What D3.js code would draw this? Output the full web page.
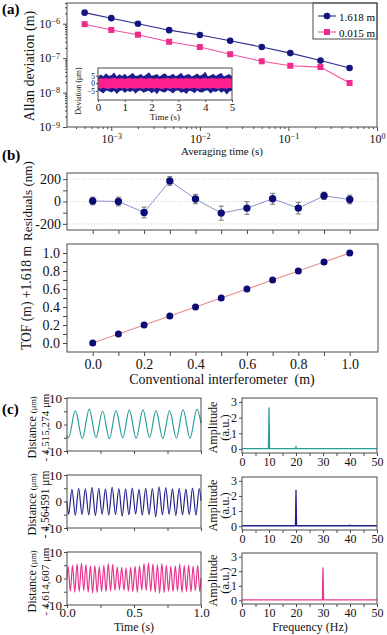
<!DOCTYPE html>
<html>
<head>
<meta charset="utf-8">
<script src="https://cdn.jsdelivr.net/npm/d3@7"></script>
<style>
body { margin: 0; background: #fff; }
</style>
</head>
<body>
<script>
// ---- (a) Allan deviation ----
const tau = [0.0005, 0.001, 0.002, 0.0045, 0.01, 0.022, 0.05, 0.105, 0.23, 0.49];
const adevLong = [2.1e-6, 1.45e-6, 1.0e-6, 6.5e-7, 4.7e-7, 3.2e-7, 2.1e-7, 1.4e-7, 8.5e-8, 5.2e-8];
const adevShort = [9.7e-7, 6.6e-7, 4.8e-7, 3.0e-7, 2.1e-7, 1.3e-7, 8.1e-8, 6.0e-8, 5.5e-8, 1.9e-8];
const legendNames = ["1.618 m", "0.015 m"];

// inset: envelope of the deviation traces (µm) vs time (s)
const insetTime = [0, 0.1, 0.2, 0.3, 0.4, 0.5, 0.6, 0.7, 0.8, 0.9, 1.0, 1.1, 1.2, 1.3, 1.4, 1.5, 1.6, 1.7, 1.8, 1.9, 2.0,
  2.1, 2.2, 2.3, 2.4, 2.5, 2.6, 2.7, 2.8, 2.9, 3.0, 3.1, 3.2, 3.3, 3.4, 3.5, 3.6, 3.7, 3.8, 3.9, 4.0,
  4.1, 4.2, 4.3, 4.4, 4.5, 4.6, 4.7, 4.8, 4.9, 5.0];
const blueUpper = [4.2, 5.8, 4.6, 6.5, 4.9, 5.2, 7.0, 4.5, 5.9, 4.8, 6.2, 4.4, 5.5, 6.8, 4.7, 5.1, 6.0, 4.6, 5.7, 7.2, 4.9,
  5.3, 6.1, 4.5, 5.8, 6.6, 4.8, 5.0, 6.3, 4.6, 5.4, 6.9, 4.7, 5.6, 6.0, 4.5, 5.2, 6.4, 4.9, 5.7, 7.5,
  4.6, 5.1, 6.2, 4.8, 5.9, 6.7, 4.5, 5.3, 6.1, 4.4];
const blueLower = [-4.5, -5.6, -6.8, -4.7, -5.2, -6.1, -4.9, -7.0, -5.3, -4.6, -6.4, -5.0, -5.8, -4.8, -6.9, -5.1, -4.7, -6.2, -5.5, -4.9, -6.6,
  -5.2, -7.3, -4.8, -5.7, -6.0, -4.6, -5.4, -6.7, -5.0, -4.8, -6.3, -5.6, -7.1, -4.9, -5.2, -6.5, -4.7, -5.9, -6.1, -5.0,
  -4.8, -6.8, -5.3, -5.7, -4.6, -6.2, -5.1, -7.4, -5.5, -4.9];
const pinkUpper = [2.8, 3.3, 3.0, 3.5, 2.9, 3.2, 3.6, 3.0, 3.1, 3.4, 2.8, 3.3, 3.5, 2.9, 3.2, 3.0, 3.6, 3.1, 2.9, 3.4, 3.2,
  3.0, 3.5, 2.8, 3.3, 3.1, 3.6, 2.9, 3.2, 3.4, 3.0, 3.3, 2.9, 3.5, 3.1, 3.2, 3.0, 3.6, 2.8, 3.3, 3.4,
  3.0, 3.2, 3.5, 2.9, 3.1, 3.3, 3.0, 3.4, 3.2, 2.9];
const pinkLower = [-3.1, -3.6, -2.9, -3.4, -3.8, -3.0, -3.3, -3.7, -2.9, -3.5, -3.2, -3.9, -3.0, -3.4, -3.6, -3.1, -3.3, -3.8, -2.9, -3.5, -3.2,
  -3.6, -3.0, -3.4, -3.9, -3.1, -3.3, -3.7, -3.0, -3.5, -3.2, -3.4, -3.8, -2.9, -3.6, -3.3, -3.1, -3.5, -3.7, -3.0, -3.4,
  -3.2, -3.6, -2.9, -3.5, -3.8, -3.1, -3.3, -3.6, -3.0, -3.2];

// ---- (b) comparison with conventional interferometer ----
const convDist = [0, 0.1, 0.2, 0.3, 0.4, 0.5, 0.6, 0.7, 0.8, 0.9, 1.0];
const tofDist = [0, 0.1, 0.2, 0.3, 0.4, 0.5, 0.6, 0.7, 0.8, 0.9, 1.0];
const residual = [5, 0, -98, 184, 22, -104, -59, 24, -59, 51, 18];
const residualErr = [34, 39, 48, 40, 42, 63, 57, 49, 52, 33, 39];

// ---- (c) vibration traces (extrema) and spectra ----
const sig1Time = [0, 0.012, 0.062, 0.114, 0.166, 0.216, 0.266, 0.316, 0.366, 0.416, 0.465, 0.516,
  0.567, 0.616, 0.664, 0.715, 0.766, 0.816, 0.866, 0.918, 0.97, 1.0];
const sig1Val = [-4.0, -5.0, 5.2, -5.3, 5.8, -5.0, 5.1, -5.4, 5.2, -5.1, 5.5, -5.2,
  5.6, -5.0, 5.2, -5.3, 5.2, -5.1, 5.6, -5.2, 5.8, 0.5];

const sig2Time = [0, 0.012, 0.037, 0.062, 0.087, 0.112, 0.137, 0.162, 0.187, 0.212, 0.237, 0.262, 0.287,
  0.312, 0.337, 0.362, 0.387, 0.412, 0.437, 0.462, 0.487, 0.512, 0.537, 0.562, 0.587, 0.612, 0.637,
  0.662, 0.687, 0.712, 0.737, 0.762, 0.787, 0.812, 0.837, 0.862, 0.887, 0.912, 0.937, 0.962, 0.987, 1.0];
const sig2Val = [0, -4.8, 4.6, -5.2, 5.0, -4.9, 4.8, -5.0, 5.3, -5.3, 5.0, -4.8, 4.7, -5.1, 5.4, -4.9,
  4.9, -5.5, 4.8, -5.0, 5.1, -4.7, 4.6, -5.1, 5.0, -4.9, 4.9, -5.8, 5.5, -5.0, 5.2, -4.8, 4.8, -5.2,
  5.0, -5.0, 4.7, -4.9, 5.1, -5.1, 4.9, 0.3];

const sig3Time = [0, 0.008, 0.025, 0.041, 0.058, 0.075, 0.091, 0.108, 0.125, 0.141, 0.158, 0.175, 0.191,
  0.208, 0.225, 0.241, 0.258, 0.275, 0.291, 0.308, 0.325, 0.341, 0.358, 0.375, 0.391, 0.408, 0.425,
  0.441, 0.458, 0.475, 0.491, 0.508, 0.525, 0.541, 0.558, 0.575, 0.591, 0.608, 0.625, 0.641, 0.658,
  0.675, 0.691, 0.708, 0.725, 0.741, 0.758, 0.775, 0.791, 0.808, 0.825, 0.841, 0.858, 0.875, 0.891,
  0.908, 0.925, 0.941, 0.958, 0.975, 0.991, 1.0];
const sig3Val = [0, 4.6, -4.8, 5.0, -5.2, 5.5, -5.0, 5.8, -4.6, 5.2, -5.1, 4.8, -5.5, 4.9, -5.3, 4.5,
  -4.9, 5.0, -5.0, 5.6, -4.7, 5.3, -4.5, 4.4, -4.3, 4.2, -4.6, 4.0, -4.8, 4.3, -5.0, 4.6, -5.2, 4.8,
  -4.4, 5.7, -4.6, 5.9, -4.9, 5.5, -5.1, 5.2, -5.6, 5.6, -5.3, 5.0, -4.8, 4.6, -5.0, 4.8, -4.7, 5.4,
  -5.2, 4.9, -4.9, 5.1, -5.1, 4.7, -4.6, 5.0, -5.0, 0.2];

const spec1Freq = [0, 9.8, 10, 10.2, 19.8, 20, 20.2, 50];
const spec1Amp = [0.03, 0.03, 2.65, 0.03, 0.03, 0.13, 0.03, 0.03];
const spec2Freq = [0, 19.8, 20, 20.2, 39.8, 40, 40.2, 50];
const spec2Amp = [0.03, 0.03, 2.4, 0.03, 0.03, 0.07, 0.03, 0.03];
const spec3Freq = [0, 29.8, 30, 30.2, 50];
const spec3Amp = [0.03, 0.03, 2.25, 0.03, 0.03];

const offsetLabels = ["- 4,515,274 μm", "- 4,564591 μm", "- 4,614,607 μm"];

// ---------------------------------------------------------------
const serif = "'Liberation Serif', 'Times New Roman', Times, serif";
const ink = "#4a4a4a";
const blue = "#15157f", pink = "#ee2a8c";
const svg = d3.select("body").append("svg").attr("width", 387).attr("height", 635)
  .attr("font-family", serif).style("display", "block");

// shrink a text so it is no longer than the span it takes in the picture
function fit(sel, len) {
  const w = sel.node().getComputedTextLength();
  const fs = +sel.attr("font-size");
  if (w > len) sel.attr("font-size", fs * len / w);
  return sel;
}

function frame(x0, y0, x1, y1) {
  svg.append("rect").attr("x", x0).attr("y", y0).attr("width", x1 - x0).attr("height", y1 - y0)
    .attr("fill", "none").attr("stroke", ink).attr("stroke-width", 1);
}

function drawAxis(axis, tx, ty, fontSize) {
  const g = svg.append("g").attr("transform", `translate(${tx},${ty})`).call(axis);
  g.attr("font-family", serif).attr("font-size", fontSize);
  g.select(".domain").remove();
  g.selectAll(".tick line").attr("stroke", ink);
  g.selectAll(".tick text").attr("fill", "#111");
  return g;
}

function vLabel(text, x, y, size, len) {
  const t = svg.append("text").attr("transform", `translate(${x},${y}) rotate(-90)`)
    .attr("text-anchor", "middle").attr("font-size", size).attr("fill", "#111").text(text);
  return len ? fit(t, len) : t;
}

function hLabel(text, x, y, size, len) {
  const t = svg.append("text").attr("x", x).attr("y", y).attr("text-anchor", "middle")
    .attr("font-size", size).attr("fill", "#111").text(text);
  return len ? fit(t, len) : t;
}

function tag(text, y) {
  svg.append("text").attr("x", 2).attr("y", y).attr("font-size", 15).attr("font-weight", "bold").text(text);
}

function pow10(sel) {
  sel.each(function (d) {
    const e = String(Math.round(Math.log10(d))).replace("-", "\u2212");
    const t = d3.select(this).text("10");
    t.append("tspan").attr("dy", "-0.45em").attr("font-size", "0.68em").text(e);
  });
}

const minus = d => String(d).replace("-", "\u2212");

// ================= (a) =================
tag("(a)", 14);
const xA = d3.scaleLog().domain([10 ** -3.5, 1]).range([67, 377]);
const yA = d3.scaleLog().domain([1e-9, 4e-6]).range([127, 3]);
const isMajor = d => Math.abs(Math.log10(d) - Math.round(Math.log10(d))) < 1e-6;

drawAxis(d3.axisBottom(xA).tickValues(xA.ticks().filter(d => !isMajor(d))).tickSize(2).tickFormat(""), 0, 127, 12);
drawAxis(d3.axisBottom(xA).tickValues(xA.ticks().filter(isMajor)).tickSize(4).tickPadding(3), 0, 127, 12)
  .selectAll(".tick text").call(pow10);
drawAxis(d3.axisLeft(yA).tickValues(yA.ticks().filter(d => !isMajor(d))).tickSize(2).tickFormat(""), 67, 0, 12);
drawAxis(d3.axisLeft(yA).tickValues(yA.ticks().filter(isMajor)).tickSize(4).tickPadding(3), 67, 0, 12)
  .selectAll(".tick text").call(pow10);
frame(67, 3, 377, 127);

vLabel("Allan deviation (m)", 34, 66, 14, 117);
hLabel("Averaging time (s)", 222, 155, 12, 82);

const adevLine = d3.line().x(d => xA(d[0])).y(d => yA(d[1]));
const longPts = tau.map((t, i) => [t, adevLong[i]]);
const shortPts = tau.map((t, i) => [t, adevShort[i]]);
svg.append("path").datum(longPts).attr("d", adevLine).attr("fill", "none").attr("stroke", "#2a2a90").attr("stroke-width", 1.1);
svg.append("path").datum(shortPts).attr("d", adevLine).attr("fill", "none").attr("stroke", "#f0509f").attr("stroke-width", 1.1);
svg.append("g").selectAll("circle").data(longPts).join("circle")
  .attr("cx", d => xA(d[0])).attr("cy", d => yA(d[1])).attr("r", 3.3).attr("fill", blue);
svg.append("g").selectAll("rect").data(shortPts).join("rect")
  .attr("x", d => xA(d[0]) - 3).attr("y", d => yA(d[1]) - 3).attr("width", 6).attr("height", 6).attr("fill", pink);

// legend
frame(313, 3, 377, 39);
legendNames.forEach((name, i) => {
  const y = 16 + i * 16;
  svg.append("line").attr("x1", 318).attr("x2", 336).attr("y1", y).attr("y2", y)
    .attr("stroke", i ? "#f0509f" : "#2a2a90").attr("stroke-width", 1.1);
  if (i === 0) svg.append("circle").attr("cx", 327).attr("cy", y).attr("r", 3.3).attr("fill", blue);
  else svg.append("rect").attr("x", 324).attr("y", y - 3).attr("width", 6).attr("height", 6).attr("fill", pink);
  fit(svg.append("text").attr("x", 339).attr("y", y + 4.5).attr("font-size", 13).text(name), 36);
});

// inset
const xI = d3.scaleLinear().domain([0, 5]).range([98, 232]);
const yI = d3.scaleLinear().domain([-11, 10]).range([100, 68]);
svg.append("rect").attr("x", 98).attr("y", 68).attr("width", 134).attr("height", 32).attr("fill", "#fff");
const band = (up, lo) => d3.area().x((d, i) => xI(insetTime[i])).y0((d, i) => yI(lo[i])).y1((d, i) => yI(up[i]));
svg.append("path").datum(blueUpper).attr("d", band(blueUpper, blueLower)).attr("fill", "#1d1d8f");
svg.append("path").datum(pinkUpper).attr("d", band(pinkUpper, pinkLower)).attr("fill", "#ff1f8e");
drawAxis(d3.axisBottom(xI).ticks(5).tickSize(2).tickPadding(1).tickFormat(d3.format("d")), 0, 100, 11);
drawAxis(d3.axisLeft(yI).tickValues([-5, 0, 5]).tickSize(2).tickPadding(1).tickFormat(minus), 98, 0, 7.5);
frame(98, 68, 232, 100);
vLabel("Deviation (μm)", 81, 91, 11, 47);
hLabel("Time (s)", 165, 120, 11, 30);

// ================= (b) =================
tag("(b)", 160);
const xB = d3.scaleLinear().domain([-0.1, 1.11]).range([67, 378]);
const yR = d3.scaleLinear().domain([-255, 255]).range([230, 173]);
const yT = d3.scaleLinear().domain([-0.1, 1.1]).range([352, 244]);

svg.append("g").selectAll("line").data([-200, 0, 200]).join("line")
  .attr("x1", 67).attr("x2", 378).attr("y1", d => yR(d)).attr("y2", d => yR(d))
  .attr("stroke", "#cfcfcf").attr("stroke-dasharray", "1,2");
drawAxis(d3.axisBottom(xB).tickValues(convDist).tickSize(4).tickFormat(""), 0, 230, 14);
drawAxis(d3.axisLeft(yR).tickValues([-200, -100, 0, 100, 200]).tickSize(4).tickPadding(2)
  .tickFormat(d => d % 200 === 0 ? String(d) : ""), 67, 0, 14);
frame(67, 173, 378, 230);
vLabel("Residuals (nm)", 32, 201, 14, 80);

const resPts = convDist.map((x, i) => ({x, y: residual[i], e: residualErr[i]}));
svg.append("path").datum(resPts).attr("d", d3.line().x(d => xB(d.x)).y(d => yR(d.y)))
  .attr("fill", "none").attr("stroke", "#9090cc").attr("stroke-width", 1);
const eb = svg.append("g").attr("stroke", "#666").attr("stroke-width", 0.9);
eb.selectAll(".v").data(resPts).join("line").attr("class", "v")
  .attr("x1", d => xB(d.x)).attr("x2", d => xB(d.x)).attr("y1", d => yR(d.y - d.e)).attr("y2", d => yR(d.y + d.e));
eb.selectAll(".c").data(resPts.flatMap(d => [d.y - d.e, d.y + d.e].map(v => ({x: d.x, v})))).join("line").attr("class", "c")
  .attr("x1", d => xB(d.x) - 2.5).attr("x2", d => xB(d.x) + 2.5).attr("y1", d => yR(d.v)).attr("y2", d => yR(d.v));
svg.append("g").selectAll("circle").data(resPts).join("circle")
  .attr("cx", d => xB(d.x)).attr("cy", d => yR(d.y)).attr("r", 3.7).attr("fill", "#0c0c78");

drawAxis(d3.axisBottom(xB).tickValues(convDist).tickSize(4).tickPadding(3)
  .tickFormat(d => Math.round(d * 10) % 2 === 0 ? d3.format(".1f")(d) : ""), 0, 352, 14);
drawAxis(d3.axisLeft(yT).tickValues(tofDist).tickSize(4).tickPadding(3)
  .tickFormat(d => Math.round(d * 10) % 2 === 0 ? d3.format(".1f")(d) : ""), 67, 0, 14);
frame(67, 244, 378, 352);
vLabel("TOF (m) +1.618 m", 31, 298, 14, 104);
hLabel("Conventional interferometer  (m)", 222, 384, 14, 182).attr("xml:space", "preserve");

const tofPts = convDist.map((x, i) => [x, tofDist[i]]);
svg.append("path").datum(tofPts).attr("d", d3.line().x(d => xB(d[0])).y(d => yT(d[1])))
  .attr("fill", "none").attr("stroke", "#e88f8f").attr("stroke-width", 1.2);
svg.append("g").selectAll("circle").data(tofPts).join("circle")
  .attr("cx", d => xB(d[0])).attr("cy", d => yT(d[1])).attr("r", 3.5).attr("fill", "#0c0c78");

// ================= (c) =================
tag("(c)", 414);
const xL = d3.scaleLinear().domain([0, 1]).range([67, 201]);
const xF = d3.scaleLinear().domain([0, 50]).range([242, 377]);
const rowsL = [[398, 451], [475, 528], [552, 605]];
const rowsR = [[398, 453], [477, 530], [553, 604]];
const sigs = [[sig1Time, sig1Val], [sig2Time, sig2Val], [sig3Time, sig3Val]];
const specs = [[spec1Freq, spec1Amp], [spec2Freq, spec2Amp], [spec3Freq, spec3Amp]];
const traceColors = ["#2a9e9b", "#22228c", "#e8368f"];

rowsL.forEach(([top, bot], r) => {
  const y = d3.scaleLinear().domain([-10, 10]).range([bot, top]);
  const last = r === 2;
  drawAxis(d3.axisBottom(xL).tickValues([0, 0.25, 0.5, 0.75, 1]).tickSize(3).tickPadding(0)
    .tickFormat(d => last && d % 0.5 === 0 ? d3.format(".1f")(d) : ""), 0, bot, 13);
  drawAxis(d3.axisLeft(y).tickValues([-10, -5, 0, 5, 10]).tickSize(3).tickPadding(2)
    .tickFormat(d => d % 10 === 0 ? String(d) : ""), 67, 0, 13);
  const [tt, vv] = sigs[r];
  svg.append("path").datum(tt.map((t, i) => [t, vv[i]]))
    .attr("d", d3.line().x(d => xL(d[0])).y(d => y(d[1])).curve(d3.curveMonotoneX))
    .attr("fill", "none").attr("stroke", traceColors[r]).attr("stroke-width", 1.2);
  frame(67, top, 201, bot);

  const mid = (top + bot) / 2 + 3;
  const lab = svg.append("text").attr("transform", `translate(36,${mid}) rotate(-90)`)
    .attr("text-anchor", "middle").attr("font-size", 13).attr("fill", "#111");
  lab.append("tspan").text("Distance ");
  lab.append("tspan").attr("font-size", 9).text("(μm)");
  const w = lab.node().getComputedTextLength();
  if (w > 62) lab.attr("transform", `translate(36,${mid}) rotate(-90) scale(${62 / w})`);
  vLabel(offsetLabels[r], 48.5, mid, 12.5, 68);
});
hLabel("Time (s)", 134, 631, 12, 40);

rowsR.forEach(([top, bot], r) => {
  const y = d3.scaleLinear().domain([-0.25, 3.25]).range([bot, top]);
  drawAxis(d3.axisBottom(xF).tickValues(d3.range(0, 51, 5)).tickSize(3).tickPadding(1)
    .tickFormat(d => d % 10 === 0 ? String(d) : ""), 0, bot, 12);
  drawAxis(d3.axisLeft(y).tickValues([0, 1, 2, 3]).tickSize(3).tickPadding(2).tickFormat(d3.format("d")), 242, 0, 12);
  const [ff, aa] = specs[r];
  svg.append("path").datum(ff.map((f, i) => [f, aa[i]]))
    .attr("d", d3.line().x(d => xF(d[0])).y(d => y(d[1])))
    .attr("fill", "none").attr("stroke", traceColors[r]).attr("stroke-width", 1.3);
  frame(242, top, 377, bot);
  const mid = (top + bot) / 2 + 2;
  vLabel("Amplitude", 217, mid, 12.5, 52);
  vLabel("(a.u.)", 229, mid, 12.5, 30);
});
hLabel("Frequency (Hz)", 310, 631, 12, 78);
</script>
</body>
</html>
